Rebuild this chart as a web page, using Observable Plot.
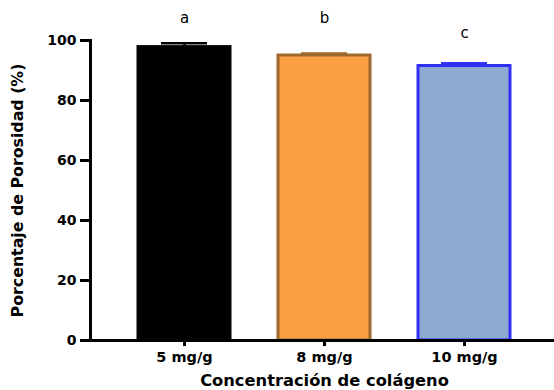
<!DOCTYPE html>
<html>
<head>
<meta charset="utf-8">
<script src="https://cdn.jsdelivr.net/npm/d3@7"></script>
<script src="https://cdn.jsdelivr.net/npm/@observablehq/plot@0.6"></script>
<style>
  html, body { margin: 0; padding: 0; background: #fff; }
  svg { font-family: "DejaVu Sans", sans-serif; }
</style>
</head>
<body>
<div id="chart"></div>
<script>
const categories = ["5 mg/g", "8 mg/g", "10 mg/g"];
const porosity = [97.8, 95.0, 91.5];
const errors = [1.3, 0.7, 0.9];
const letters = ["a", "b", "c"];
const letterLevels = [105.7, 105.7, 101.0];
const fills = ["#000000", "#FA9F42", "#8CAAD2"];
const strokes = ["#000000", "#9B6A2C", "#3232F6"];
const yTicks = [0, 20, 40, 60, 80, 100];

const data = categories.map((c, i) => ({
  cat: c, value: porosity[i], err: errors[i], letter: letters[i],
  ly: letterLevels[i], fill: fills[i], stroke: strokes[i]
}));

const chart = Plot.plot({
  width: 554,
  height: 390,
  marginLeft: 90,
  marginRight: 0,
  marginTop: 40,
  marginBottom: 50,
  style: { fontFamily: '"DejaVu Sans", sans-serif', color: "#000", background: "#fff" },
  x: { domain: categories, range: [90, 558], paddingInner: 0.34, paddingOuter: 0.33, label: null },
  y: { domain: [0, 100], label: null },
  marks: [
    Plot.barY(data, { x: "cat", y: "value", fill: "fill", stroke: "stroke", strokeWidth: 3 }),
    Plot.ruleX(data, { x: "cat", y1: "value", y2: d => d.value + d.err, stroke: "stroke", strokeWidth: 2.5 }),
    Plot.tickY(data, { x: "cat", y: d => d.value + d.err, stroke: "stroke", strokeWidth: 2.5, insetLeft: 23, insetRight: 23 }),
    Plot.text(data, { x: "cat", y: "ly", text: "letter", lineAnchor: "bottom", fontSize: 15, fill: "#000" }),
    Plot.axisY({ ticks: yTicks, tickSize: 10, tickPadding: 4, strokeWidth: 3, fontSize: 14, fontWeight: "bold", label: null }),
    Plot.axisX({ tickSize: 6, tickPadding: 5, strokeWidth: 3, fontSize: 14.5, fontWeight: "bold", label: null }),
    Plot.frame({ anchor: "left", strokeWidth: 3 }),
    Plot.ruleY([0], { strokeWidth: 3 }),
    Plot.text(["Porcentaje de Porosidad (%)"], { frameAnchor: "left", textAnchor: "middle", lineAnchor: "middle", rotate: -90, dx: -73, fontSize: 15.8, fontWeight: "bold" }),
    Plot.text(["Concentración de colágeno"], { frameAnchor: "bottom", textAnchor: "middle", lineAnchor: "middle", dy: 40.5, dx: 2, fontSize: 16.3, fontWeight: "bold" })
  ]
});
document.getElementById("chart").appendChild(chart);
</script>
</body>
</html>
